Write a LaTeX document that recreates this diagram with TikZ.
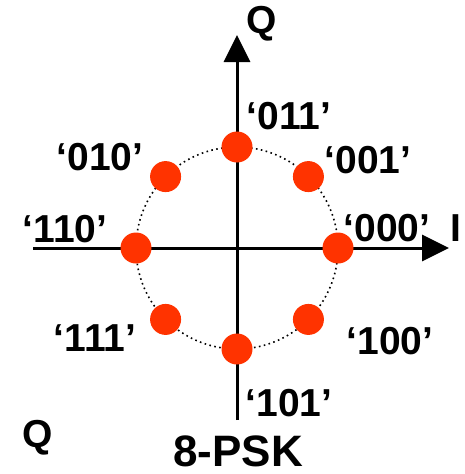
\documentclass[tikz,border=0pt]{standalone}
\usepackage{fontspec}
\setmainfont{Liberation Sans}
\usetikzlibrary{arrows.meta,calc}
\definecolor{dotred}{HTML}{FF3300}
\begin{document}
\begin{tikzpicture}[x=1pt,y=-1pt,
  dotnode/.style={circle,fill=dotred,draw=none,minimum size=31pt,inner sep=0pt},
  lbl/.style={font=\fontsize{39}{39}\selectfont\bfseries,inner sep=0pt},
  axis/.style={line width=3pt,-{Triangle[width=26pt,length=27pt]}}]
\useasboundingbox (0,0) rectangle (464,474);
\coordinate (c) at (237,248);
\coordinate (xl) at (33,248);
\coordinate (xr) at (449,248);
\coordinate (yb) at (237,420);
\coordinate (yt) at (237,35);
\draw[axis] (xl) -- (xr);
\draw[axis] (yb) -- (yt);
\draw[line width=1.6pt,dash pattern=on 1.6pt off 3.4pt] (c) circle[radius=101];
\foreach \n/\a in {d000/0,d001/45,d011/90,d010/135,d110/180,d111/225,d101/270,d100/315}
  \node[dotnode] (\n) at ($(c)+(\a:101)$) {};
\node[lbl] (l011) at (289,116) {‘011’};
\node[lbl] (l010) at (100,157) {‘010’};
\node[lbl] (l001) at (368,160) {‘001’};
\node[lbl] (l110) at (65,229) {‘110’};
\node[lbl] (l000) at (387,228) {‘000’};
\node[lbl] (l111) at (95,338) {‘111’};
\node[lbl] (l100) at (390,341) {‘100’};
\node[lbl] (l101) at (289,403) {‘101’};
\node[lbl] (qt) at (262,24) {Q};
\node[lbl] (ir) at (456,228) {I};
\node[lbl] (qb) at (38,438) {Q};
\node[lbl,font=\fontsize{44}{44}\selectfont\bfseries,anchor=base,text depth=0pt] (psk) at (238,466) {8-PSK};
\end{tikzpicture}
\end{document}
